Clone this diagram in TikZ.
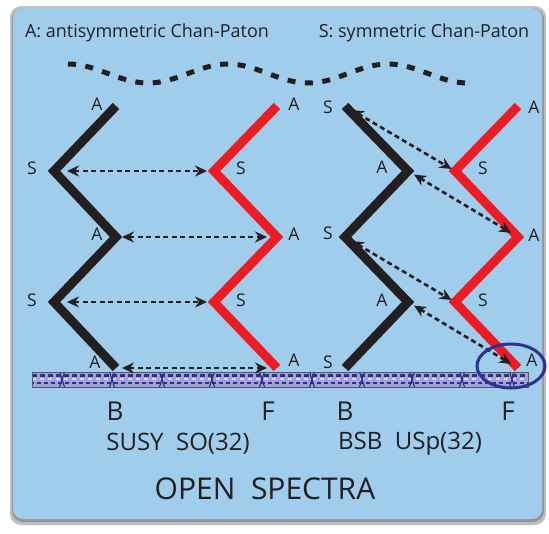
\documentclass[tikz,border=0pt]{standalone}
\usepackage{fontspec}
\setmainfont{Open Sans}
\usetikzlibrary{arrows.meta}
\definecolor{panel}{RGB}{160,205,236}
\definecolor{redz}{RGB}{237,28,36}
\definecolor{blackz}{RGB}{35,31,32}
\definecolor{navy}{RGB}{46,49,146}
\definecolor{lav}{RGB}{160,160,220}
\definecolor{shadowc}{RGB}{150,150,150}
\begin{document}
\begin{tikzpicture}[x=1pt,y=-1pt,
  zig/.style={line width=9pt,line join=miter},
  lbl/.style={font=\fontsize{17.5}{17.5}\selectfont, text=blackz, inner sep=0pt},
  dbl/.style={dash pattern=on 5pt off 3.5pt, line width=2.6pt, draw=blackz,
    {Stealth[length=12pt,width=11pt,inset=4pt]}-{Stealth[length=12pt,width=11pt,inset=4pt]}},
  hand/.style={font=\fontsize{24}{24}\selectfont, text=blackz, inner sep=0pt},
  head/.style={font=\fontsize{18}{18}\selectfont, text=blackz, inner sep=0pt}
]
\useasboundingbox (0,0) rectangle (549,533);
% panel with shadow
\fill[shadowc!60, rounded corners=11pt] (10,6) rectangle (546,525);
\fill[shadowc, rounded corners=11pt] (12,8) rectangle (544,522);
\fill[panel, rounded corners=10pt] (13,8) rectangle (542,519);

% header texts
\node[head] (tA) at (147,33) {A: antisymmetric Chan-Paton};
\node[head] (tS) at (424,33) {S: symmetric Chan-Paton};

% dashed wave
\draw[blackz, line width=5pt, dash pattern=on 8pt off 9.5pt]
  plot[domain=68:466, samples=120, smooth] (\x, {73.5 - 9.5*cos(2.25*(\x-68))});

% bar
\fill[lav] (32,372) rectangle (528,387);
\draw[navy, line width=2.4pt, dash pattern=on 5pt off 3pt] (32,375.3) -- (528,375.3);
\draw[navy, line width=2.4pt, dash pattern=on 4pt off 3pt, dash phase=2pt] (32,383) -- (528,383);
\draw[white!60!lav, line width=1.6pt, dash pattern=on 4pt off 4pt] (32,379) -- (528,379);
\foreach \bx in {62,112,162,212,262,312,362,412,462,512}{
  \draw[navy, line width=1.2pt] (\bx-2.5,372) -- (\bx+2.5,387);
  \draw[navy, line width=1.2pt] (\bx+2.5,372) -- (\bx-2.5,387);
}
\draw[blackz!75, line width=0.9pt] (32,372) rectangle (528,387);

% vertices
\coordinate (LB1) at (116,106); \coordinate (LB2) at (54,171);
\coordinate (LB3) at (116,237); \coordinate (LB4) at (54,302);
\coordinate (LB5) at (116,368);
\coordinate (LR1) at (277,106); \coordinate (LR2) at (214,171);
\coordinate (LR3) at (277,237); \coordinate (LR4) at (214,302);
\coordinate (LR5) at (277,368);
\coordinate (RB1) at (345,106); \coordinate (RB2) at (408,171);
\coordinate (RB3) at (345,237); \coordinate (RB4) at (408,302);
\coordinate (RB5) at (345,368);
\coordinate (RR1) at (518,106); \coordinate (RR2) at (455,171);
\coordinate (RR3) at (518,237); \coordinate (RR4) at (455,302);
\coordinate (RR5) at (518,368);

% zigzags
\draw[zig, blackz] (LB1) -- (LB2) -- (LB3) -- (LB4) -- (LB5);
\draw[zig, redz] (LR1) -- (LR2) -- (LR3) -- (LR4) -- (LR5);
\draw[zig, blackz] (RB1) -- (RB2) -- (RB3) -- (RB4) -- (RB5);
\draw[zig, redz] (RR1) -- (RR2) -- (RR3) -- (RR4) -- (RR5);

% horizontal arrows (SUSY)
\draw[dbl, shorten <=13pt, shorten >=7pt] (LB2) -- (LR2);
\draw[dbl, shorten <=6pt, shorten >=10pt] (LB3) -- (LR3);
\draw[dbl, shorten <=13pt, shorten >=7pt] (LB4) -- (LR4);
\draw[dbl, shorten <=6pt, shorten >=10pt] (LB5) -- (LR5);

% diagonal arrows (BSB)
\draw[dbl, shorten <=8pt, shorten >=4pt] (RB1) -- (RR2);
\draw[dbl, shorten <=7pt, shorten >=8pt] (RB2) -- (RR3);
\draw[dbl, shorten <=8pt, shorten >=4pt] (RB3) -- (RR4);
\draw[dbl, shorten <=7pt, shorten >=8pt] (RB4) -- (RR5);

% circle
\draw[navy, line width=3pt] (511,366) ellipse [x radius=34, y radius=22];

% labels
\node[lbl] (a1) at (97,104) {A};  \node[lbl] (s1) at (32,168) {S};
\node[lbl] (a2) at (97,234) {A};  \node[lbl] (s2) at (32,300) {S};
\node[lbl] (a3) at (95,362) {A};
\node[lbl] (a4) at (294,104) {A}; \node[lbl] (s3) at (241,168) {S};
\node[lbl] (a5) at (294,234) {A}; \node[lbl] (s4) at (241,300) {S};
\node[lbl] (a6) at (294,360) {A};
\node[lbl] (s5) at (328,107) {S}; \node[lbl] (a7) at (382,167) {A};
\node[lbl] (s6) at (328,233) {S}; \node[lbl] (a8) at (382,300) {A};
\node[lbl] (s7) at (328,362) {S};
\node[lbl] (a9) at (534,107) {A}; \node[lbl] (s8) at (483,168) {S};
\node[lbl] (a10) at (534,235) {A}; \node[lbl] (s9) at (483,300) {S};
\node[lbl] (a11) at (532,360) {A};

% B / F
\node[hand, font=\fontsize{26}{26}\selectfont] (b1) at (115,411) {B};
\node[hand, font=\fontsize{26}{26}\selectfont] (f1) at (268,411) {F};
\node[hand, font=\fontsize{26}{26}\selectfont] (b2) at (345,411) {B};
\node[hand, font=\fontsize{26}{26}\selectfont] (f2) at (508,411) {F};

% bottom titles
\node[hand] (t1) at (178,444) {SUSY\ \ SO(32)};
\node[hand] (t2) at (410,444) {BSB\ \ USp(32)};
\node[hand, font=\fontsize{30}{30}\selectfont] (t3) at (265,489) {OPEN\ \ SPECTRA};
\end{tikzpicture}
\end{document}
